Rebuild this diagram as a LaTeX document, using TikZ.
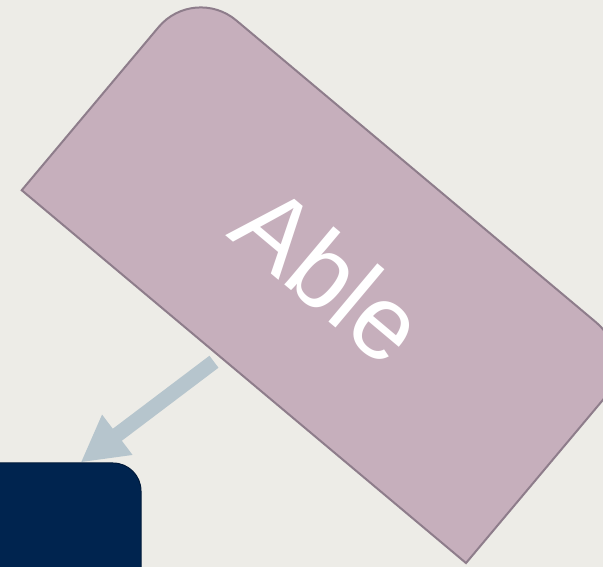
\documentclass[tikz,border=0pt]{standalone}
\usepackage{fontspec}
\setsansfont{Liberation Sans}
\usetikzlibrary{arrows.meta, positioning, backgrounds}
\definecolor{cBack}{RGB}{237,236,231}
\definecolor{cTab}{RGB}{198,175,188}
\definecolor{cTabLine}{RGB}{142,125,139}
\definecolor{cNavy}{RGB}{0,36,79}
\definecolor{cNavyLine}{RGB}{0,26,58}
\definecolor{cLink}{RGB}{182,197,205}
\tikzset{
	tab/.style     ={rectangle, rotate=-40, minimum width=580pt, minimum height=268pt, inner sep=0pt, outer sep=0pt, text=white, font=\sffamily\fontsize{105}{105}\selectfont},
	tabedge/.style ={draw=cTabLine, line width=2pt, fill=cTab},
	goalbox/.style ={rectangle, rounded corners=28pt, minimum width=302pt, minimum height=136pt, draw=cNavyLine, line width=1pt, fill=cNavy},
	link/.style    ={-{Triangle[width=47pt, length=46pt]}, line width=15pt, draw=cLink, shorten <=8pt},
}
\begin{document}
\begin{tikzpicture}[x=1pt, y=1pt]
	\useasboundingbox (0,0) rectangle (603,567);
	\node[tab] (able) at (330,293) {Able};
	\node[goalbox] (goal) at (-10,36) {};
	\begin{scope}[on background layer]
		\fill[cBack] (0,0) rectangle (603,567);
		% only the upper two corners are rounded
		\draw[tabedge] (able.south west) [rounded corners=55pt] -- (able.north west) -- (able.north east) [sharp corners] -- (able.south east) -- cycle;
	\end{scope}
	\draw[link] (able) -- (goal);
\end{tikzpicture}
\end{document}
